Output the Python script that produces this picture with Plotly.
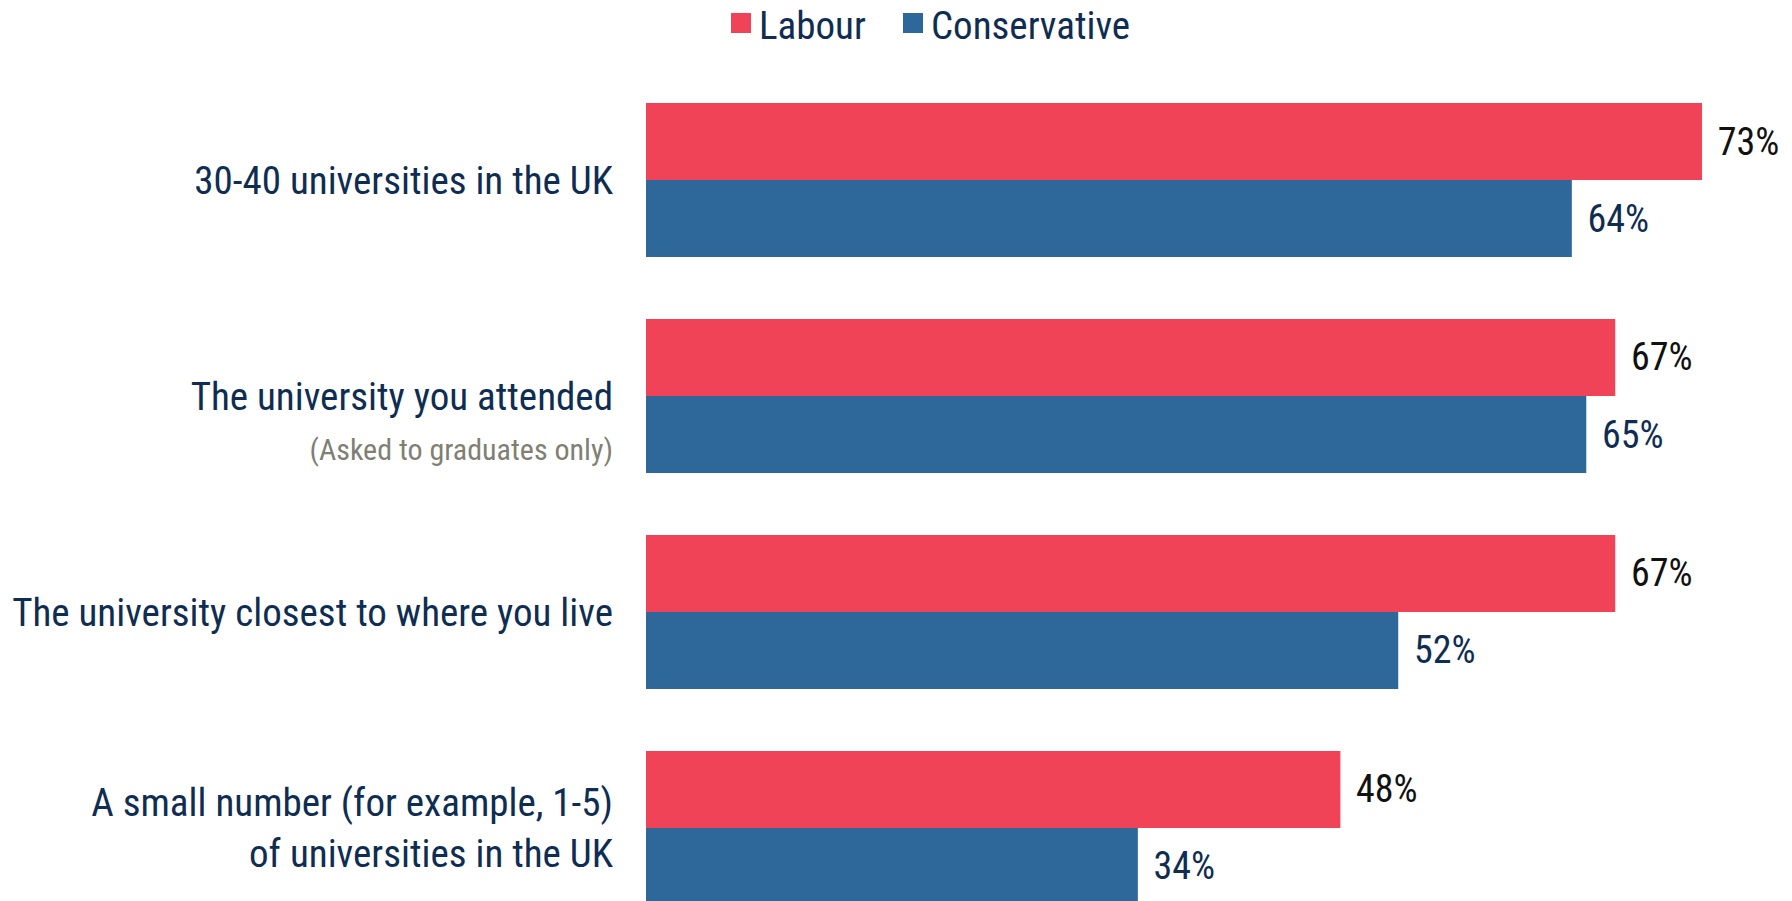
import plotly.graph_objects as go

categories = [
    "30-40 universities in the UK",
    "\u00a0<br>The university you attended<br><span style=\"font-size:30px;color:#7f7f74\">(Asked to graduates only)</span>",
    "The university closest to where you live",
    "A small number (for example, 1-5)<br>of universities in the UK",
]
labour = [73, 67, 67, 48]
conservative = [64, 65, 52, 34]

RED = "#F04357"
BLUE = "#2E6799"
NAVY = "#0F2D52"
FONT = "Roboto Condensed, Liberation Sans, sans-serif"

fig = go.Figure()
fig.add_trace(go.Bar(
    y=categories, x=labour, name="Labour", orientation="h",
    marker=dict(color=RED, line=dict(width=0)),
    texttemplate="\u00a0\u200a%{x}%", textposition="outside",
    outsidetextfont=dict(family=FONT, size=38, color="#111111"),
    cliponaxis=False, showlegend=False,
))
fig.add_trace(go.Bar(
    y=categories, x=conservative, name="Conservative", orientation="h",
    marker=dict(color=BLUE, line=dict(width=0)),
    texttemplate="\u00a0\u200a%{x}%", textposition="outside",
    outsidetextfont=dict(family=FONT, size=38, color=NAVY),
    cliponaxis=False, showlegend=False,
))

W, H = 1792, 901
L, T = 646, 72
pw, ph = W - L, H - T

def px(x):
    return (x - L) / pw

def py(y):
    return (H - y) / ph

shapes = [
    dict(type="rect", xref="paper", yref="paper", x0=px(731), x1=px(751), y0=py(33), y1=py(13),
         fillcolor=RED, line=dict(width=0)),
    dict(type="rect", xref="paper", yref="paper", x0=px(903), x1=px(923), y0=py(33), y1=py(13),
         fillcolor=BLUE, line=dict(width=0)),
]
annotations = [
    dict(text="Labour", xref="paper", yref="paper", x=px(757), y=py(1), xanchor="left", yanchor="top",
         showarrow=False, font=dict(family=FONT, size=39, color=NAVY)),
    dict(text="Conservative", xref="paper", yref="paper", x=px(929), y=py(1), xanchor="left", yanchor="top",
         showarrow=False, font=dict(family=FONT, size=39, color=NAVY)),
]

fig.update_layout(
    width=W, height=H,
    barmode="group", bargap=0.287, bargroupgap=0,
    margin=dict(l=L, r=0, t=T, b=0, autoexpand=False),
    plot_bgcolor="white", paper_bgcolor="white",
    font=dict(family=FONT, size=39, color=NAVY),
    shapes=shapes, annotations=annotations,
    showlegend=False,
    xaxis=dict(range=[0, 79.22], visible=False, showgrid=False, zeroline=False, fixedrange=True),
    yaxis=dict(range=[3.338, -0.5], showgrid=False, zeroline=False, showline=False,
               ticks="", ticklabelstandoff=32, automargin=False,
               tickfont=dict(family=FONT, size=39, color=NAVY)),
)

fig.write_html("out.html")
